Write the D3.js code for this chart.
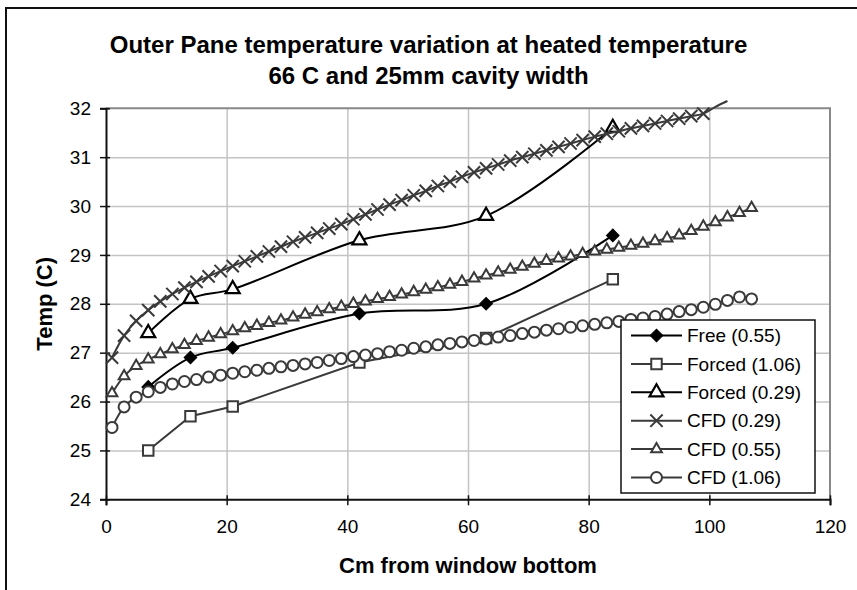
<!DOCTYPE html>
<html>
<head>
<meta charset="utf-8">
<script src="https://cdn.jsdelivr.net/npm/d3@7"></script>
<style>
  body { margin: 0; background: #fff; }
  svg text { font-family: 'Liberation Sans', Arial, sans-serif; }
</style>
</head>
<body>
<div id="chart"></div>
<script>
// measured points (cm from bottom)
const expX = [7, 14, 21, 42, 63, 84]
const free055 = [26.3, 26.9, 27.1, 27.8, 28.0, 29.4]
const forced106 = [25.0, 25.7, 25.9, 26.8, 27.3, 28.5]
const forced029 = [27.4, 28.1, 28.3, 29.3, 29.8, 31.6]

// CFD profiles
const cfdX = [1, 3, 5, 7, 9, 11, 13, 15, 17, 19, 21, 23, 25, 27, 29, 31, 33, 35, 37, 39,
  41, 43, 45, 47, 49, 51, 53, 55, 57, 59, 61, 63, 65, 67, 69, 71, 73, 75, 77, 79,
  81, 83, 85, 87, 89, 91, 93, 95, 97, 99, 101, 103, 105, 107]
const cfd029 = [26.90, 27.35, 27.65, 27.87, 28.05, 28.20, 28.33, 28.45, 28.56, 28.67,
  28.77, 28.87, 28.97, 29.07, 29.17, 29.27, 29.36, 29.45, 29.54, 29.63,
  29.73, 29.83, 29.93, 30.03, 30.12, 30.22, 30.31, 30.41, 30.50, 30.60,
  30.69, 30.77, 30.85, 30.93, 31.00, 31.07, 31.14, 31.21, 31.28, 31.35,
  31.42, 31.48, 31.53, 31.59, 31.64, 31.69, 31.74, 31.79, 31.84, 31.89,
  32.03, 32.15]
const cfd055 = [26.17, 26.52, 26.73, 26.86, 26.97, 27.07, 27.16, 27.24, 27.31, 27.38,
  27.44, 27.50, 27.55, 27.61, 27.66, 27.72, 27.78, 27.83, 27.89, 27.94,
  28.00, 28.05, 28.10, 28.14, 28.19, 28.24, 28.29, 28.34, 28.39, 28.45,
  28.52, 28.58, 28.64, 28.70, 28.76, 28.82, 28.88, 28.93, 28.97, 29.02,
  29.07, 29.11, 29.15, 29.19, 29.23, 29.28, 29.34, 29.40, 29.49, 29.58,
  29.67, 29.77, 29.86, 29.96]
const cfd106 = [25.47, 25.89, 26.09, 26.20, 26.29, 26.36, 26.41, 26.45, 26.50, 26.54,
  26.58, 26.61, 26.64, 26.68, 26.71, 26.74, 26.77, 26.80, 26.84, 26.88,
  26.92, 26.95, 26.98, 27.02, 27.05, 27.09, 27.12, 27.16, 27.19, 27.22,
  27.25, 27.28, 27.32, 27.35, 27.39, 27.42, 27.46, 27.49, 27.52, 27.55,
  27.58, 27.61, 27.64, 27.68, 27.71, 27.74, 27.79, 27.84, 27.88, 27.93,
  27.99, 28.07, 28.14, 28.10]

const xTicks = [0, 20, 40, 60, 80, 100, 120]
const yTicks = [24, 25, 26, 27, 28, 29, 30, 31, 32]
const titleLines = ['Outer Pane temperature variation at heated temperature', '66 C and 25mm cavity width']

const width = 857, height = 590
const margin = {top: 108.3, right: 27, bottom: 90.7, left: 106}
const gray = '#3a3a3a'

const xScale = d3.scaleLinear().domain([0, 120]).range([margin.left, width - margin.right])
const yScale = d3.scaleLinear().domain([24, 32]).range([height - margin.bottom, margin.top])

const svg = d3.select('#chart').append('svg')
  .attr('width', width)
  .attr('height', height)

// chart area frame
svg.append('rect')
  .attr('x', 6).attr('y', 8)
  .attr('width', 870).attr('height', 620)
  .attr('fill', '#fff').attr('stroke', '#111').attr('stroke-width', 2)

// title
svg.append('g').selectAll('text').data(titleLines).join('text')
  .attr('x', 428.5)
  .attr('y', (d, i) => 53 + i * 31)
  .attr('text-anchor', 'middle')
  .attr('font-size', 24)
  .attr('font-weight', 'bold')
  .text(d => d)

// grid
svg.append('g')
  .attr('transform', `translate(0, ${yScale(24)})`)
  .call(d3.axisBottom(xScale).tickValues(xTicks.slice(1, -1))
    .tickSize(-(yScale(24) - yScale(32))).tickFormat(''))
  .call(g => g.select('.domain').remove())
  .call(g => g.selectAll('.tick line').attr('stroke', '#c4c4c4').attr('stroke-width', 1.5))
svg.append('g')
  .attr('transform', `translate(${xScale(0)}, 0)`)
  .call(d3.axisLeft(yScale).tickValues(yTicks.slice(1, -1))
    .tickSize(-(xScale(120) - xScale(0))).tickFormat(''))
  .call(g => g.select('.domain').remove())
  .call(g => g.selectAll('.tick line').attr('stroke', '#c4c4c4').attr('stroke-width', 1.5))

// plot area border (top, right)
svg.append('path')
  .attr('d', `M${xScale(0)},${yScale(32)}H${xScale(120)}V${yScale(24)}`)
  .attr('fill', 'none').attr('stroke', '#888').attr('stroke-width', 2)

// axes
const xAxis = svg.append('g')
  .attr('transform', `translate(0, ${yScale(24)})`)
  .call(d3.axisBottom(xScale).tickValues(xTicks).tickSizeOuter(0).tickSize(6).tickPadding(14))
const yAxis = svg.append('g')
  .attr('transform', `translate(${xScale(0)}, 0)`)
  .call(d3.axisLeft(yScale).tickValues(yTicks).tickSizeOuter(0).tickSize(6).tickPadding(9))
;[xAxis, yAxis].forEach(g => {
  g.select('.domain').attr('stroke', '#111').attr('stroke-width', 2)
  g.selectAll('.tick line').attr('stroke', '#111').attr('stroke-width', 1.5)
  g.selectAll('.tick text').attr('font-size', 19).attr('fill', '#000')
    .attr('font-family', "'Liberation Sans', Arial, sans-serif")
})
xAxis.selectAll('.tick line').attr('y1', -4)
yAxis.selectAll('.tick line').attr('x1', 4)

// axis titles
svg.append('text')
  .attr('x', (xScale(0) + xScale(120)) / 2).attr('y', 573)
  .attr('text-anchor', 'middle')
  .attr('font-size', 22).attr('font-weight', 'bold')
  .text('Cm from window bottom')
svg.append('text')
  .attr('transform', `translate(52, ${(yScale(24) + yScale(32)) / 2}) rotate(-90)`)
  .attr('text-anchor', 'middle')
  .attr('font-size', 22).attr('font-weight', 'bold')
  .text('Temp (C)')

// marker shapes
const diamond = d3.symbol().type(d3.symbolSquare).size(80)()
const square = d3.symbol().type(d3.symbolSquare).size(110)()
const triBig = d3.symbol().type(d3.symbolTriangle).size(85)()
const triSmall = d3.symbol().type(d3.symbolTriangle).size(50)()
const circle = d3.symbol().type(d3.symbolCircle).size(95)()
const cross = d3.symbol().type(d3.symbolTimes).size(100)()

const series = [
  {name: 'Free (0.55)', x: expX, y: free055, color: '#000', curve: d3.curveCatmullRom,
    shape: diamond, rot: 45, fill: '#000', mstroke: '#000', msw: 1, lw: 2},
  {name: 'Forced (1.06)', x: expX, y: forced106, color: gray, curve: d3.curveLinear,
    shape: square, rot: 0, fill: '#fff', mstroke: gray, msw: 2, lw: 2},
  {name: 'Forced (0.29)', x: expX, y: forced029, color: '#000', curve: d3.curveCatmullRom,
    shape: triBig, rot: 0, fill: '#fff', mstroke: '#000', msw: 2.2, lw: 2},
  {name: 'CFD (0.29)', x: cfdX, y: cfd029, color: gray, curve: d3.curveCatmullRom,
    shape: cross, rot: 0, fill: 'none', mstroke: gray, msw: 2, lw: 2},
  {name: 'CFD (0.55)', x: cfdX, y: cfd055, color: gray, curve: d3.curveCatmullRom,
    shape: triSmall, rot: 0, fill: '#fff', mstroke: gray, msw: 2, lw: 2},
  {name: 'CFD (1.06)', x: cfdX, y: cfd106, color: gray, curve: d3.curveCatmullRom,
    shape: circle, rot: 0, fill: '#fff', mstroke: gray, msw: 2, lw: 2}
]

series.forEach(s => {
  const pts = s.y.map((v, i) => [s.x[i], v])
  const g = svg.append('g')
  g.append('path')
    .datum(pts)
    .attr('fill', 'none')
    .attr('stroke', s.color)
    .attr('stroke-width', s.lw)
    .attr('d', d3.line().x(d => xScale(d[0])).y(d => yScale(d[1])).curve(s.curve))
  g.selectAll('path.m').data(pts.filter(d => d[1] <= 32)).join('path')
    .attr('class', 'm')
    .attr('d', s.shape)
    .attr('transform', d => `translate(${xScale(d[0])}, ${yScale(d[1])}) rotate(${s.rot})`)
    .attr('fill', s.fill)
    .attr('stroke', s.mstroke)
    .attr('stroke-width', s.msw)
})

// legend
const legend = svg.append('g')
legend.append('rect')
  .attr('x', 621).attr('y', 320).attr('width', 194).attr('height', 173)
  .attr('fill', '#fff').attr('stroke', '#111').attr('stroke-width', 1.5)
const rows = legend.selectAll('g.row').data(series).join('g')
  .attr('class', 'row')
  .attr('transform', (d, i) => `translate(0, ${335.5 + i * 28.4})`)
rows.append('line')
  .attr('x1', 631).attr('x2', 682)
  .attr('stroke', d => d.color).attr('stroke-width', 2)
rows.append('path')
  .attr('d', d => d.shape)
  .attr('transform', d => `translate(656.5, 0) rotate(${d.rot})`)
  .attr('fill', d => d.fill)
  .attr('stroke', d => d.mstroke)
  .attr('stroke-width', d => d.msw)
rows.append('text')
  .attr('x', 687).attr('dy', '0.35em')
  .attr('font-size', 19)
  .text(d => d.name)
</script>
</body>
</html>
